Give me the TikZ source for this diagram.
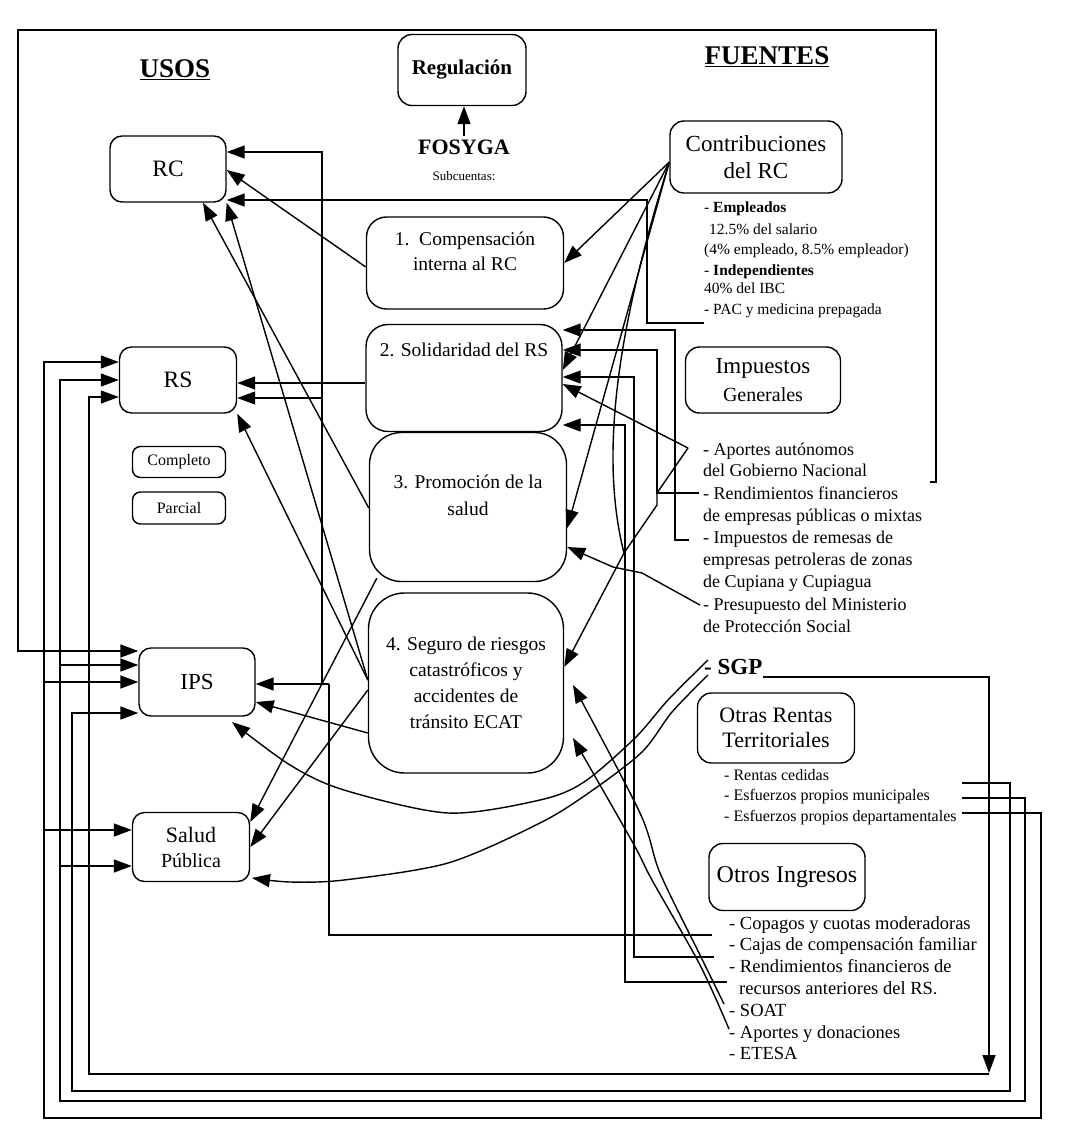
\documentclass[tikz,border=0pt]{standalone}
\usepackage{fontspec}
\setmainfont{Liberation Serif}
\usetikzlibrary{arrows.meta}
\begin{document}
\begin{tikzpicture}[x=1pt,y=-1pt,
  ln/.style={line width=1.4pt},
  arr/.style={line width=1.4pt,-{Triangle[length=18pt,width=13pt]}},
  bx/.style={draw,line width=1.4pt,rounded corners=#1,inner sep=0pt,align=center},
  bx/.default=12pt,
  sm/.style={anchor=west,inner sep=0pt,text height=0.7em,text depth=0.2em,font=\fontsize{15.5}{18}\selectfont},
  md/.style={anchor=west,inner sep=0pt,text height=0.7em,text depth=0.2em,font=\fontsize{18}{21}\selectfont},
  rt/.style={anchor=west,inner sep=0pt,text height=0.7em,text depth=0.2em,font=\fontsize{16}{19}\selectfont},
  oi/.style={anchor=west,inner sep=0pt,text height=0.7em,text depth=0.2em,font=\fontsize{18.5}{21}\selectfont},
  bt/.style={align=center,inner sep=0pt},
  ]
\useasboundingbox (0,0) rectangle (1074,1136);

% titles
\node[font=\fontsize{27}{32}\selectfont\bfseries] (usos) at (175,70) {\underline{USOS}};
\node[font=\fontsize{27}{32}\selectfont\bfseries] (fuentes) at (767,57) {\underline{FUENTES}};
\node[font=\fontsize{22}{26}\selectfont\bfseries] (fos) at (464,147) {FOSYGA};
\node[font=\fontsize{13}{15}\selectfont] (subc) at (464,176) {Subcuentas:};

% boxes
\node[bx=14pt,minimum width=128pt,minimum height=71pt,font=\fontsize{21}{25}\selectfont\bfseries] (reg) at (462,70) {Regulación};
\node[bx,minimum width=116pt,minimum height=66pt,font=\fontsize{23.5}{26}\selectfont] (rc) at (168,169) {RC};
\node[bx,minimum width=117pt,minimum height=66pt,font=\fontsize{23.5}{26}\selectfont] (rs) at (178,380) {RS};
\node[bx=8pt,minimum width=93pt,minimum height=31pt,font=\fontsize{16}{19}\selectfont] (compl) at (179,462) {Completo};
\node[bx=8pt,minimum width=93pt,minimum height=32pt,font=\fontsize{16}{19}\selectfont] (parc) at (179,508) {Parcial};
\node[bx,minimum width=116pt,minimum height=68pt,font=\fontsize{23}{26}\selectfont] (ips) at (197,682) {IPS};
\node[bx,minimum width=117pt,minimum height=69pt,font=\fontsize{22}{25}\selectfont] (sp) at (191,847) {Salud\\\fontsize{20}{25}\selectfont Pública};

\node[bx=20pt,minimum width=197pt,minimum height=92pt] (b1) at (465,263) {};
\node[bx=22pt,minimum width=196pt,minimum height=107pt] (b2) at (464,378) {};
\node[bx=32pt,minimum width=197pt,minimum height=149pt] (b3) at (468,507) {};
\node[bx=36pt,minimum width=195pt,minimum height=180pt] (b4) at (466,683) {};
\node[bt,font=\fontsize{19.5}{25}\selectfont] (b1t) at (465,251) {1.\ \ Compensación\\interna al RC};
\node[bt,font=\fontsize{19.5}{25}\selectfont] (b2t) at (464,350) {2. Solidaridad del RS};
\node[bt,font=\fontsize{19.5}{27}\selectfont] (b3t) at (468,495) {3. Promoción de la\\salud};
\node[bt,font=\fontsize{19.5}{26}\selectfont] (b4t) at (466,683) {4. Seguro de riesgos\\catastróficos y\\accidentes de\\tránsito ECAT};

\node[bx=14pt,minimum width=172pt,minimum height=72pt,font=\fontsize{23}{27}\selectfont] (contr) at (756,157) {Contribuciones\\del RC};
\node[bx=14pt,minimum width=155pt,minimum height=66pt,font=\fontsize{23}{28}\selectfont] (imp) at (763,380) {Impuestos\\\fontsize{20}{28}\selectfont Generales};
\node[bx=14pt,minimum width=157pt,minimum height=70pt,font=\fontsize{22}{25}\selectfont] (otr) at (776,728) {Otras Rentas\\Territoriales};
\node[bx=14pt,minimum width=156pt,minimum height=67pt,font=\fontsize{24}{28}\selectfont] (oin) at (787,877) {Otros Ingresos};

% source texts
\node[sm] (e1) at (704,210) {- \textbf{Empleados}};
\node[sm] (e2) at (709,232) {12.5\% del salario};
\node[sm] (e3) at (704,252) {(4\% empleado, 8.5\% empleador)};
\node[sm] (e4) at (704,273) {- \textbf{Independientes}};
\node[sm] (e5) at (704,291) {40\% del IBC};
\node[sm] (e6) at (704,312) {- PAC y medicina prepagada};

\node[md] (i1) at (703,453) {- Aportes autónomos};
\node[md] (i2) at (703,474) {del Gobierno Nacional};
\node[md] (i3) at (703,497) {- Rendimientos financieros};
\node[md] (i4) at (703,519) {de empresas públicas o mixtas};
\node[md] (i5) at (703,541) {- Impuestos de remesas de};
\node[md] (i6) at (703,563) {empresas petroleras de zonas};
\node[md] (i7) at (703,585) {de Cupiana y Cupiagua};
\node[md] (i8) at (703,608) {- Presupuesto del Ministerio};
\node[md] (i9) at (703,630) {de Protección Social};

\node[anchor=west,inner sep=0pt,font=\fontsize{23}{26}\selectfont\bfseries] (sgp) at (704,667) {- SGP};

\node[rt] (r1) at (724,778) {- Rentas cedidas};
\node[rt] (r2) at (724,798) {- Esfuerzos propios municipales};
\node[rt] (r3) at (724,819) {- Esfuerzos propios departamentales};

\node[oi] (o1) at (729,927) {- Copagos y cuotas moderadoras};
\node[oi] (o2) at (729,948) {- Cajas de compensación familiar};
\node[oi] (o3) at (729,970) {- Rendimientos financieros de};
\node[oi] (o4) at (739,992) {recursos anteriores del RS.};
\node[oi] (o5) at (729,1014) {- SOAT};
\node[oi] (o6) at (729,1036) {- Aportes y donaciones};
\node[oi] (o7) at (729,1057) {- ETESA};

% FOSYGA -> Regulacion
\draw[arr] (fos.north) -- (fos.north |- reg.south);

% Contribuciones del RC fan
\coordinate (cf) at ([yshift=-5pt]contr.west);
\coordinate (j1) at (624,553);
\draw[arr] (cf) -- (b1.east |- 0,263);
\draw[arr] (cf) -- (b2.east |- 0,370);
\draw[arr] (cf) -- (b3.east |- 0,528);
\draw[ln] (cf) .. controls (620,320) and (598,450) .. (j1);
\draw[arr] (j1) -- (b4.east |- 0,667);

% Impuestos generales
\coordinate (ap) at (688,448);
\draw[arr] (ap) -- (b2.east |- 0,384);
\draw[ln] (ap) -- (657,493) -- (657,505) -- (j1);
\draw[arr] (699,493) -- (657,493) -- (657,350) -- (b2.east |- 0,350);
\draw[arr] (689,540) -- (675,540) -- (675,330) -- (b2.east |- 0,330);
\draw[arr] (700,605) -- (642,573) -- (613,567) -- (b3.east |- 0,547);

% PAC
\draw[arr] (704,323) -- (647,323) -- (647,200) -- (rc.east |- 0,200);

% Otros ingresos
\draw[ln] (712,935) -- (329,935) -- (329,684);
\draw[arr] (329,684) -- (ips.east |- 0,684);
\draw[arr] (322,684) -- (322,152) -- (rc.east |- 0,152);
\draw[arr] (322,398) -- (rs.east |- 0,398);
\draw[arr] (714,957) -- (634,957) -- (634,377) -- (b2.east |- 0,377);
\draw[arr] (727,982) -- (625,982) -- (625,425) -- (b2.east |- 0,425);
\draw[arr] plot[smooth,tension=0.5] coordinates {(724,1004) (700,955) (660,873) (640,813) (573,685)};
\draw[arr] plot[smooth,tension=0.5] coordinates {(729,1029) (700,965) (652,880) (633,843) (573,738)};

% middle -> usos
\draw[arr] (b1.west |- 0,267) -- (rc.east |- 0,170);
\draw[arr] (b2.west |- 0,383) -- (rs.east |- 0,383);
\draw[arr] (b3.west |- 0,508) -- (rc.south -| 203,0);
\draw[arr] (b4.west |- 0,680) -- (rc.south east);
\draw[arr] (b4.west |- 0,680) -- (rs.south east);
\draw[arr] (b4.west |- 0,733) -- (ips.east |- 0,702);
\draw[arr] ([shift={(8pt,4pt)}]b3.south west) -- (sp.east |- 0,822);
\draw[arr] (b4.west |- 0,690) -- (sp.east |- 0,847);

% SGP
\draw[arr] (sgp.east |- 0,677) -- (989,677) -- (989,1073);
\draw[arr] (989,1074) -- (89,1074) -- (89,397) -- (rs.west |- 0,397);
\draw[arr] plot[smooth] coordinates {(708,660) (668,700) (635,738) (584,782) (540,800) (448,813) (344,790) (290,765) (232,722)};
\draw[arr] plot[smooth] coordinates {(708,675) (672,712) (642,752) (590,792) (540,823) (448,863) (344,880) (290,882) (252,878)};

% Otras rentas
\draw[arr] (962,783) -- (1010,783) -- (1010,1091) -- (72,1091) -- (72,713) -- (ips.west |- 0,713);
\draw[arr] (962,798) -- (1025,798) -- (1025,1101) -- (60,1101) -- (60,380) -- (rs.west |- 0,380);
\draw[arr] (60,866) -- (sp.west |- 0,866);
\draw[arr] (60,665) -- (ips.west |- 0,665);
\draw[arr] (962,813) -- (1041,813) -- (1041,1118) -- (44,1118) -- (44,362) -- (rs.west |- 0,362);
\draw[arr] (44,682) -- (ips.west |- 0,682);
\draw[arr] (44,830) -- (sp.west |- 0,830);

% frame
\draw[arr] (930,482) -- (936,482) -- (936,30) -- (18,30) -- (18,651) -- (ips.west |- 0,651);
\end{tikzpicture}
\end{document}
